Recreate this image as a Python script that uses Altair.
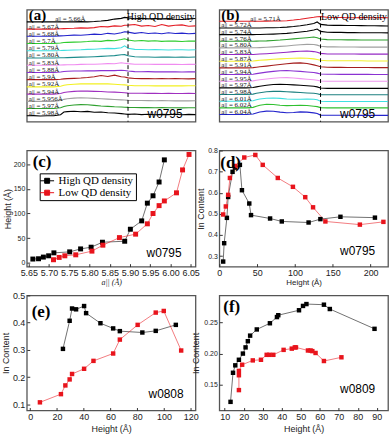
import altair as alt
import pandas as pd

SANS = "Liberation Sans"
SERIF = "Liberation Serif"

# ---------------- (a)/(b): stacked intensity line cuts ----------------
ALPHA = [-0.5, -0.4, -0.3, -0.2, -0.1, 0.0, 0.05, 0.1, 0.2, 0.3, 0.4, 0.5, 0.6, 0.7,
         0.8, 0.9, 0.95, 1.0, 1.1, 1.2, 1.3, 1.4, 1.5, 1.6, 1.7, 1.8, 1.9, 2.0]

A_LABELS = ["5.66", "5.67", "5.68", "5.7", "5.79", "5.80", "5.83", "5.88", "5.9",
            "5.92", "5.94", "5.956", "5.97", "5.98"]
A_COLORS = ["#000000", "#e32028", "#2424cc", "#2ecc2e", "#3fe0e0", "#1d8c8c", "#f08cf0",
            "#8a32d2", "#a81e1e", "#f2f020", "#a030c0", "#a0a0a0", "#2fa02f", "#000000"]
A_CURVES = [
    [0, 0, 0, 0, 0, 0, 0, 0, 0, 0.2, 0, 0.3, 0.8, 1.5, 2.8, 3.5, 4.5, 4.0, 3.2, 3.6, 3.0, 3.4, 3.0, 3.3, 2.6, 2.4, 3.0, 3.4],
    [0, 0.1, 0, 0.1, 0, 0.3, 0.5, 0.6, 0.8, 1.2, 1.0, 1.5, 2.6, 2.2, 3.2, 2.8, 3.8, 4.0, 4.6, 3.0, 3.6, 2.6, 4.6, 3.0, 3.8, 4.2, 2.8, 3.2],
    [0, 0, 0.1, 0, 0.1, 0.4, 0.6, 0.8, 1.2, 1.0, 1.6, 2.2, 1.8, 3.0, 2.4, 3.6, 4.6, 4.2, 3.0, 3.8, 2.8, 3.4, 2.6, 3.6, 2.8, 3.2, 2.6, 3.0],
    [0, 0, 0, 0.1, 0, 0.5, 1.0, 1.2, 1.4, 1.6, 2.0, 2.6, 2.2, 3.2, 2.8, 4.0, 4.8, 3.6, 2.6, 3.0, 2.4, 2.8, 2.2, 2.6, 2.4, 2.0, 2.6, 2.4],
    [0, 0, 0, 0, 0, 0.2, 0.4, 0.5, 0.8, 1.0, 1.4, 1.6, 2.0, 2.4, 2.2, 3.0, 5.0, 2.6, 1.4, 1.2, 1.0, 1.2, 1.0, 0.8, 1.0, 1.0, 0.8, 1.0],
    [0, 0, 0, 0, 0, 0.2, 0.3, 0.4, 0.6, 0.9, 1.0, 1.3, 1.6, 2.0, 2.4, 3.2, 3.4, 2.2, 1.2, 1.0, 1.0, 0.8, 1.0, 0.9, 0.8, 0.9, 0.8, 1.0],
    [0, 0, 0, 0, 0, 0.2, 0.3, 0.4, 0.5, 0.8, 1.0, 1.0, 1.3, 1.6, 1.4, 2.4, 2.0, 1.6, 1.0, 0.9, 1.0, 0.8, 0.9, 0.8, 0.8, 0.7, 0.8, 0.8],
    [0, 0, 0, 0, 0, 0.4, 1.0, 1.2, 1.4, 1.5, 1.6, 1.6, 1.8, 2.0, 1.8, 2.2, 2.0, 1.4, 0.8, 0.7, 0.8, 0.6, 0.7, 0.6, 0.6, 0.5, 0.6, 0.6],
    [0, 0, 0, 0, 0, 0.4, 0.8, 1.0, 1.3, 1.6, 2.2, 3.0, 4.2, 3.2, 4.6, 3.0, 2.6, 1.8, 1.2, 1.0, 1.1, 0.9, 1.0, 0.9, 1.0, 0.9, 0.8, 1.0],
    [0, 0, 0, 0, 0, 0.6, 1.6, 2.2, 2.6, 3.0, 3.2, 3.0, 3.2, 3.0, 2.6, 2.2, 2.0, 1.6, 1.2, 1.2, 1.1, 1.0, 1.2, 1.0, 1.1, 1.0, 1.2, 1.2],
    [0, 0, 0, 0, 0, 0.6, 1.6, 2.2, 2.8, 3.2, 3.0, 2.8, 2.6, 2.2, 2.0, 1.6, 1.4, 1.0, 0.8, 0.8, 0.7, 0.8, 0.6, 0.7, 0.6, 0.6, 0.7, 0.6],
    [0, 0, 0, 0, 0, 0.8, 2.0, 2.6, 3.2, 3.6, 3.4, 3.0, 2.6, 2.2, 1.8, 1.5, 1.3, 1.0, 0.8, 0.8, 0.7, 0.6, 0.7, 0.6, 0.5, 0.6, 0.5, 0.6],
    [0, 0, 0, 0, 0, 0.8, 2.0, 2.8, 3.6, 4.0, 3.8, 3.2, 2.6, 2.2, 1.8, 1.6, 1.4, 1.2, 1.0, 0.9, 1.0, 0.8, 0.9, 0.8, 0.8, 0.7, 0.8, 0.8],
    [0, 0.2, -0.2, 0.1, 0, 1.0, 3.8, 4.2, 4.6, 4.0, 4.4, 3.6, 3.8, 3.0, 2.8, 2.2, 1.8, 1.4, 1.8, 1.2, 1.6, 1.0, 1.4, 1.2, 1.6, 1.0, 1.4, 1.2],
]

B_LABELS = ["5.71", "5.72", "5.74", "5.76", "5.80", "5.83", "5.87", "5.91", "5.94",
            "5.95", "5.97", "5.98", "6.01", "6.02", "6.04"]
B_COLORS = ["#e32028", "#000000", "#000000", "#2fa02f", "#a0a0a0", "#9428c4", "#f2f030",
            "#a41e1e", "#8a32d2", "#f096f0", "#000000", "#1d8080", "#3fe0e0", "#30c030", "#2424cc"]
B_CURVES = [
    [0, 0, 0, 0, 0, 0, 0, 0, 0.1, 0.2, 0.3, 0.6, 1.2, 2.0, 3.0, 4.0, 4.6, 4.8, 4.0, 3.8, 3.8, 3.6, 3.6, 3.8, 3.6, 3.6, 3.7, 3.6],
    [0, 0, 0, 0, 0, 0, 0, 0, 0.1, 0.2, 0.4, 0.8, 1.4, 2.2, 3.2, 4.4, 6.0, 3.6, 2.8, 2.6, 2.6, 2.4, 2.4, 2.3, 2.2, 2.2, 2.1, 2.0],
    [0, 0, 0, 0, 0, 0, 0.1, 0.1, 0.3, 0.5, 0.8, 1.2, 1.8, 2.6, 3.4, 4.6, 5.6, 3.2, 2.4, 2.2, 2.2, 2.0, 2.0, 1.9, 1.8, 1.8, 1.8, 1.7],
    [0, 0, 0, 0, 0, 0, 0.1, 0.2, 0.4, 0.8, 1.2, 1.8, 2.4, 3.0, 3.6, 4.2, 3.6, 2.2, 1.6, 1.5, 1.5, 1.4, 1.4, 1.3, 1.3, 1.2, 1.2, 1.2],
    [0, 0, 0, 0, 0, 0.1, 0.2, 0.3, 0.6, 1.0, 1.5, 2.0, 2.6, 3.2, 3.6, 3.4, 2.8, 1.6, 1.0, 1.0, 0.9, 0.9, 0.9, 0.8, 0.8, 0.8, 0.8, 0.8],
    [0, 0, 0, 0, 0, 0.1, 0.3, 0.5, 0.9, 1.4, 1.9, 2.4, 3.0, 3.4, 3.6, 3.0, 2.4, 1.2, 0.6, 0.6, 0.5, 0.5, 0.5, 0.4, 0.4, 0.4, 0.4, 0.4],
    [0, 0, 0, 0, 0, 0.2, 0.6, 0.9, 1.4, 2.0, 2.4, 2.8, 3.0, 3.2, 3.0, 2.4, 1.8, 1.0, 0.5, 0.5, 0.4, 0.4, 0.4, 0.4, 0.3, 0.3, 0.3, 0.3],
    [0, 0, 0, 0, 0, 0.3, 0.7, 1.1, 1.8, 2.6, 3.4, 4.2, 4.8, 5.0, 4.4, 3.0, 2.2, 1.2, 0.6, 0.5, 0.5, 0.4, 0.4, 0.4, 0.4, 0.3, 0.3, 0.3],
    [0, 0, 0, 0, 0, 0.3, 0.9, 1.4, 2.4, 3.2, 3.8, 4.0, 3.6, 3.2, 2.6, 2.0, 1.4, 0.6, 0.3, 0.3, 0.2, 0.2, 0.2, 0.2, 0.2, 0.1, 0.1, 0.1],
    [0, 0, 0, 0, 0, 0.3, 0.9, 1.4, 2.2, 3.0, 3.5, 3.6, 3.2, 2.6, 2.0, 1.5, 1.0, 0.2, 0, 0, 0, 0, 0, 0, 0, 0, 0, 0],
    [0, 0, 0, 0, 0, 0.4, 1.0, 1.6, 2.6, 3.4, 3.6, 3.4, 3.0, 2.6, 2.2, 1.6, 1.0, -0.2, -0.5, -0.5, -0.5, -0.5, -0.5, -0.5, -0.5, -0.5, -0.5, -0.5],
    [0, 0, 0, 0, 0, 0.4, 1.2, 1.8, 2.8, 3.2, 3.2, 2.8, 2.4, 2.0, 1.6, 1.2, 0.8, -0.1, -0.3, -0.3, -0.3, -0.3, -0.3, -0.3, -0.3, -0.3, -0.3, -0.3],
    [0, 0, 0, 0, 0, 0.4, 1.4, 2.2, 3.0, 3.2, 2.8, 2.2, 2.0, 2.0, 2.2, 2.0, 1.4, 0.0, -0.3, -0.3, -0.3, -0.3, -0.3, -0.3, -0.3, -0.3, -0.3, -0.3],
    [0, 0, 0, 0, 0, 0.5, 1.6, 2.6, 3.6, 3.4, 2.6, 2.2, 2.4, 2.6, 2.4, 1.6, 1.2, 0.2, 0, 0, 0, 0, 0, 0, 0, 0, 0, 0],
    [0, 0, 0, 0, 0, 0.5, 1.6, 2.6, 3.4, 3.2, 2.4, 1.8, 2.0, 2.6, 2.4, 1.6, 1.0, -0.6, -0.8, -0.8, -0.8, -0.8, -0.8, -0.9, -0.9, -0.9, -0.9, -0.9],
]

# ---------------- (c): island height vs in-plane lattice parameter ----------------
C_HIGH_A = [5.660, 5.674, 5.686, 5.699, 5.712, 5.751, 5.778, 5.804, 5.832, 5.887, 5.901, 5.929, 5.943, 5.957, 5.972, 5.985]
C_HIGH_H = [7.4, 8.0, 11.4, 14.0, 20.0, 22.0, 28.0, 31.5, 41.6, 43.6, 68.0, 85.0, 121.0, 136.0, 164.0, 209.0]
C_LOW_A = [5.711, 5.725, 5.739, 5.766, 5.806, 5.833, 5.874, 5.914, 5.943, 5.957, 5.972, 5.985, 6.015, 6.030, 6.046]
C_LOW_H = [6.0, 10.7, 14.0, 16.0, 23.5, 35.6, 51.0, 58.0, 79.0, 100.0, 116.0, 125.5, 142.0, 188.6, 220.0]

# ---------------- (d)-(f): In content vs height ----------------
D_HIGH_H = [5.1, 6.4, 10.0, 11.7, 17.5, 20.6, 27.2, 29.9, 39.6, 41.9, 67.1, 82.6, 118.0, 133.6, 160.1, 205.7]
D_HIGH_IN = [0.274, 0.361, 0.481, 0.580, 0.699, 0.719, 0.732, 0.612, 0.549, 0.494, 0.478, 0.464, 0.459, 0.475, 0.486, 0.482]
D_LOW_H = [5.1, 8.6, 11.7, 14.0, 21.0, 33.0, 47.6, 57.4, 77.3, 97.3, 113.6, 123.9, 140.2, 185.8, 216.9]
D_LOW_IN = [0.497, 0.535, 0.590, 0.670, 0.727, 0.767, 0.779, 0.732, 0.670, 0.628, 0.579, 0.531, 0.464, 0.449, 0.462]

E_HIGH_H = [24.5, 29.5, 31.3, 34.3, 40.3, 41.8, 52.5, 62.0, 67.0, 83.8, 93.8, 108.8]
E_HIGH_IN = [0.304, 0.407, 0.452, 0.449, 0.461, 0.435, 0.398, 0.379, 0.369, 0.364, 0.370, 0.392]
E_LOW_H = [7.3, 23.0, 26.3, 29.5, 31.3, 40.3, 47.3, 62.0, 67.0, 80.3, 93.8, 99.8, 112.8]
E_LOW_IN = [0.108, 0.138, 0.170, 0.192, 0.212, 0.231, 0.260, 0.287, 0.338, 0.392, 0.437, 0.443, 0.298]

F_HIGH_H = [13.1, 14.4, 15.6, 17.5, 19.6, 21.0, 22.2, 23.4, 26.9, 33.8, 37.5, 38.2, 49.1, 51.2, 53.0, 62.2, 65.3, 88.8]
F_HIGH_IN = [0.122, 0.169, 0.181, 0.190, 0.200, 0.210, 0.220, 0.229, 0.239, 0.249, 0.259, 0.262, 0.270, 0.277, 0.280, 0.279, 0.272, 0.240]
F_LOW_H = [17.5, 17.5, 17.5, 19.2, 24.8, 29.1, 32.1, 33.5, 35.6, 41.0, 45.3, 46.9, 47.5, 53.8, 55.2, 56.1, 57.8, 62.2, 71.4]
F_LOW_IN = [0.141, 0.165, 0.172, 0.182, 0.189, 0.190, 0.198, 0.198, 0.198, 0.206, 0.208, 0.210, 0.210, 0.205, 0.205, 0.204, 0.201, 0.188, 0.194]

SERIES = ["High QD density", "Low QD density"]
SERIES_COLORS = ["#000000", "#e8141c"]

W = 170


def note(text, x, y, align="left", baseline="top", font=SANS, size=12, weight="normal"):
    return alt.Chart(pd.DataFrame({"t": [text]})).mark_text(
        align=align, baseline=baseline, font=font, fontSize=size, fontWeight=weight, color="black"
    ).encode(x=alt.value(x), y=alt.value(y), text="t:N")


def x_axis(values, fmt, title, lab_size=9, title_size=9, title_font=SANS, italic=False,
           label_expr=None, label_pad=2, title_pad=2, tick=3):
    kw = dict(values=values, format=fmt, title=title, domain=False, grid=False,
              ticks=True, tickSize=tick, offset=-tick, tickColor="#333", tickWidth=1,
              labelFont=SANS, labelFontSize=lab_size, labelPadding=label_pad, labelColor="#222",
              labelFlush=False, labelOverlap=False,
              titleFont=title_font, titleFontSize=title_size, titleFontWeight="normal",
              titleFontStyle="italic" if italic else "normal", titlePadding=title_pad, titleColor="#222")
    if label_expr:
        kw["labelExpr"] = label_expr
    return alt.Axis(**kw)


def y_axis(values, fmt, title, lab_size=7, title_size=9, label_pad=2, title_pad=2, tick=3):
    return alt.Axis(values=values, format=fmt, title=title, domain=False, grid=False,
                    ticks=True, tickSize=tick, offset=-tick, tickColor="#333", tickWidth=1,
                    labelFont=SANS, labelFontSize=lab_size, labelPadding=label_pad, labelColor="#222",
                    labelFlush=False, labelOverlap=False,
                    titleFont=SANS, titleFontSize=title_size, titleFontWeight="normal",
                    titlePadding=title_pad, titleColor="#222")


def stacked_panel(labels, colors, curves, step, ymin, height, letter, density, first_x, title_pad):
    n = len(curves)
    rows = []
    for i, vals in enumerate(curves):
        base = (n - 1 - i) * step
        for a, v in zip(ALPHA, vals):
            rows.append({"alpha": a, "inten": base + v, "curve": str(i)})
    df = pd.DataFrame(rows)
    lab = pd.DataFrame({
        "curve": [str(i) for i in range(n)],
        "text": ["a|| = " + s + "Å" for s in labels],
        "lx": [first_x if i == 0 else -0.47 for i in range(n)],
        "ly": [(n - 1 - i) * step for i in range(n)],
    })
    xs = alt.Scale(domain=[-0.5, 2.0], nice=False, zero=False)
    ys = alt.Scale(domain=[ymin, ymin + height], nice=False, zero=False)
    lines = alt.Chart(df).mark_line(strokeWidth=1.1).encode(
        x=alt.X("alpha:Q", scale=xs,
                axis=x_axis([-0.4, -0.2, 0, 0.2, 0.4, 0.6, 0.8, 1, 1.2, 1.4, 1.6, 1.8, 2], ".0f",
                            "αf/αc", lab_size=8, title_size=8, title_font=SERIF, italic=True,
                            label_expr="(datum.value == 0 || datum.value == 1 || datum.value == 2) ? datum.label : ''",
                            label_pad=3, title_pad=1)),
        y=alt.Y("inten:Q", scale=ys,
                axis=alt.Axis(title="Intensity (arb. units)", labels=False, ticks=False, domain=False,
                              grid=False, titleFont=SANS, titleFontSize=9, titleFontWeight="normal",
                              titleColor="#222", titlePadding=title_pad)),
        color=alt.Color("curve:N", scale=alt.Scale(domain=[str(i) for i in range(n)], range=colors),
                        legend=None),
    )
    text = alt.Chart(lab).mark_text(align="left", baseline="alphabetic", font=SERIF, fontSize=7,
                                    color="#111", dy=-0.5).encode(
        x=alt.X("lx:Q", scale=xs, axis=None), y=alt.Y("ly:Q", scale=ys, axis=None), text="text:N")
    rule = alt.Chart(pd.DataFrame({"v": [1.0]})).mark_rule(
        strokeDash=[4, 3], color="black", strokeWidth=1).encode(x=alt.X("v:Q", scale=xs, axis=None))
    return alt.layer(
        lines, text, rule,
        note(letter, 2, -2, font=SERIF, size=15, weight="bold"),
        note(density, W - 1, 2, align="right", font=SERIF, size=10),
        note("w0795", 157, height - 1, align="right", baseline="bottom", size=12),
    ).properties(width=W, height=height)


def scatter_panel(hx, hy, lx, ly, xdom, ydom, xax, yax, height, letter, lpos, tag, tpos,
                  size=20, legend=False):
    df = pd.DataFrame({
        "x": hx + lx, "y": hy + ly,
        "s": [SERIES[0]] * len(hx) + [SERIES[1]] * len(lx),
        "i": list(range(len(hx))) + list(range(len(lx))),
    })
    cs = alt.Scale(domain=SERIES, range=SERIES_COLORS)
    leg = None
    if legend:
        leg = alt.Legend(title=None, orient="none", legendX=13, legendY=23, fillColor="white",
                         strokeColor="black", padding=2, rowPadding=0, labelFont=SERIF,
                         labelFontSize=11, labelColor="black", symbolSize=100, symbolStrokeWidth=1,
                         symbolType="M-1.4,0H1.4M-0.5,-0.5H0.5V0.5H-0.5Z", symbolOpacity=1,
                         labelOffset=6)
    xs = alt.Scale(domain=xdom, nice=False, zero=False)
    ys = alt.Scale(domain=ydom, nice=False, zero=False)
    base = alt.Chart(df).encode(x=alt.X("x:Q", scale=xs, axis=xax), y=alt.Y("y:Q", scale=ys, axis=yax))
    lines = base.mark_line(strokeWidth=0.7, opacity=0.8).encode(
        color=alt.Color("s:N", scale=cs, legend=leg), order="i:Q")
    pts = base.mark_square(size=size, opacity=1).encode(color=alt.Color("s:N", scale=cs, legend=leg))
    return alt.layer(
        lines, pts,
        note(letter, lpos[0], lpos[1], font=SERIF, size=17, weight="bold"),
        note(tag, tpos[0], tpos[1], align="right", baseline="bottom", size=12),
    ).properties(width=W, height=height)


pa = stacked_panel(A_LABELS, A_COLORS, A_CURVES, 7.28, -6.0, 113, "(a)", "High QD density", -0.08, 6)
pb = stacked_panel(B_LABELS, B_COLORS, B_CURVES, 6.71, -7.3, 113, "(b)", "Low QD density", -0.04, 10)

pc = scatter_panel(
    C_HIGH_A, C_HIGH_H, C_LOW_A, C_LOW_H, [5.645, 6.062], [-8, 228],
    x_axis([5.65, 5.70, 5.75, 5.80, 5.85, 5.90, 5.95, 6.00, 6.05], ".2f", "a|| (Å)",
           lab_size=9, title_size=8, title_font=SERIF, italic=True, label_pad=2, title_pad=1),
    y_axis([0, 50, 100, 150, 200], "d", "Height (Å)", lab_size=7, title_size=9, title_pad=1),
    117, "(c)", (6, 4), "w0795", (156, 110), size=25, legend=True)

pd_ = scatter_panel(
    D_HIGH_H, D_HIGH_IN, D_LOW_H, D_LOW_IN, [0, 223], [0.25, 0.8],
    x_axis([0, 50, 100, 150, 200], "d", "Height (Å)", lab_size=9, title_size=8, label_pad=2, title_pad=1),
    y_axis([0.3, 0.4, 0.5, 0.6, 0.7, 0.8], ".1f", "In Content", lab_size=7, title_size=9, title_pad=2),
    117, "(d)", (1, 5), "w0795", (157, 108))

pe = scatter_panel(
    E_HIGH_H, E_HIGH_IN, E_LOW_H, E_LOW_IN, [-2.5, 123.5], [0.078, 0.5],
    x_axis([0, 20, 40, 60, 80, 100, 120], "d", "Height (Å)", lab_size=9, title_size=9, label_pad=2, title_pad=3),
    y_axis([0.1, 0.2, 0.3, 0.4, 0.5], ".1f", "In Content", lab_size=9, title_size=9, title_pad=2),
    116, "(e)", (5, 9), "w0808", (158, 106))

pf = scatter_panel(
    F_HIGH_H, F_HIGH_IN, F_LOW_H, F_LOW_IN, [7.2, 95.9], [0.108, 0.294],
    x_axis([10, 20, 30, 40, 50, 60, 70, 80, 90], "d", "Height (Å)", lab_size=9, title_size=9, label_pad=2, title_pad=3),
    y_axis([0.15, 0.20, 0.25], ".2f", "In Content", lab_size=7, title_size=9, title_pad=3),
    116, "(f)", (4, 4), "w0809", (157, 101))

chart = alt.concat(
    pa, pb, pc, pd_, pe, pf, columns=2, spacing={"row": 29, "column": 24}, bounds="flush", align="each"
).resolve_scale(
    color="independent"
).properties(
    padding={"left": 0, "top": 5, "right": 0, "bottom": 0}, background="white"
).configure_view(stroke="#555", strokeWidth=1.3)

chart.save("out.html", embed_options={"renderer": "svg", "actions": False})
